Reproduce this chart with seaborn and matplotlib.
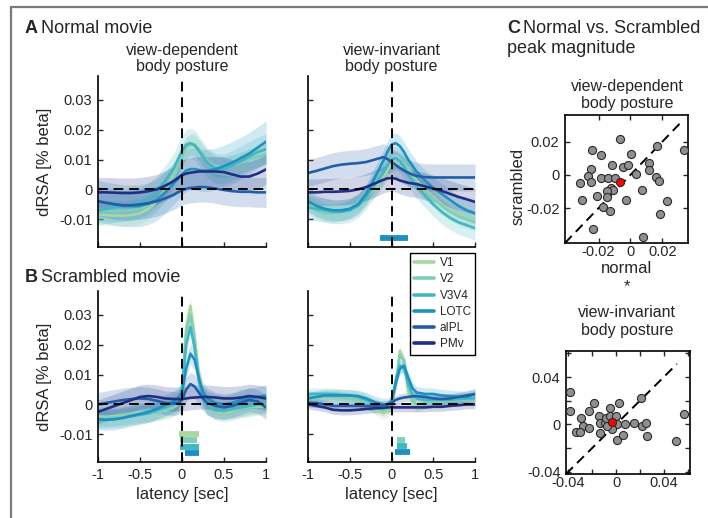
import numpy as np
import pandas as pd
import matplotlib
matplotlib.use("Agg")
import matplotlib.pyplot as plt
from matplotlib.lines import Line2D
from matplotlib.ticker import FuncFormatter
import seaborn as sns

sns.set_style("ticks")
plt.rcParams['font.family'] = ['Liberation Sans', 'DejaVu Sans']

W, H = 708, 518

regions = ['V1', 'V2', 'V3V4', 'LOTC', 'aIPL', 'PMv']
colors = ['#a9d79f', '#7fcdbb', '#41b6c4', '#1d91c0', '#225ea8', '#1f2f86']

latency = [-1, -0.9, -0.8, -0.7, -0.6, -0.5, -0.4, -0.3, -0.2, -0.1, -0.05, 0,
           0.05, 0.1, 0.15, 0.2, 0.25, 0.3, 0.4, 0.5, 0.6, 0.7, 0.8, 0.9, 1.0]

# dRSA time courses, in units of 0.001 % beta
normal_dep = {
    'V1':   [-8.5, -8.6, -8.8, -8.8, -8.6, -8.0, -6.5, -4.0, 0.0, 5.0, 8.0, 11.5, 14.0, 14.8, 14.5, 13.0, 11.0, 9.5, 7.5, 7.3, 8.0, 9.0, 10.0, 11.0, 12.0],
    'V2':   [-7.0, -7.2, -7.3, -7.2, -7.0, -6.5, -5.5, -3.5, -0.5, 4.0, 7.5, 11.0, 14.0, 15.2, 15.0, 13.5, 11.5, 9.8, 7.8, 7.5, 8.0, 9.0, 10.0, 11.0, 11.8],
    'V3V4': [-7.0, -6.5, -6.0, -5.5, -5.0, -4.5, -3.0, -0.5, 3.0, 7.0, 10.0, 13.0, 15.0, 15.5, 14.8, 13.0, 11.0, 9.0, 7.0, 6.8, 8.0, 9.5, 11.0, 12.5, 13.5],
    'LOTC': [-4.0, -4.5, -5.0, -5.5, -5.5, -5.5, -4.8, -3.5, -1.0, 2.0, 3.5, 5.0, 6.3, 6.8, 6.8, 6.5, 6.3, 6.3, 6.8, 7.8, 9.0, 10.5, 12.0, 14.0, 16.0],
    'aIPL': [-4.0, -4.5, -5.0, -5.3, -5.3, -5.0, -4.6, -4.0, -3.0, -1.8, -1.0, -0.3, 0.2, 0.5, 0.6, 0.8, 0.8, 0.7, 0.3, -0.2, -0.6, -0.8, -0.8, -1.0, -1.0],
    'PMv':  [-1.0, -1.0, -1.1, -1.2, -1.2, -1.0, -0.6, 0.0, 1.2, 2.8, 3.8, 4.8, 5.3, 5.6, 5.8, 6.0, 6.0, 6.0, 6.0, 5.8, 5.0, 4.3, 4.3, 5.3, 6.7],
}
normal_inv = {
    'V1':   [-4.0, -6.0, -7.5, -8.0, -7.5, -6.5, -5.0, -2.5, 0.5, 4.0, 6.5, 8.5, 9.8, 9.5, 8.5, 7.0, 5.0, 3.0, 0.0, -2.5, -5.0, -7.0, -8.5, -9.5, -10.5],
    'V2':   [-5.0, -7.0, -8.0, -8.0, -7.5, -6.5, -4.5, -1.5, 2.0, 5.5, 7.5, 9.5, 10.2, 9.8, 8.5, 6.5, 4.5, 2.5, -0.5, -3.0, -5.5, -7.5, -9.0, -10.0, -11.0],
    'V3V4': [-6.0, -6.5, -7.0, -7.5, -7.5, -7.0, -5.5, -2.5, 1.5, 5.5, 8.0, 10.0, 10.5, 9.5, 7.5, 5.0, 3.0, 1.0, -2.0, -5.0, -7.5, -9.5, -11.0, -12.0, -13.0],
    'LOTC': [-4.0, -5.5, -6.5, -7.0, -7.0, -6.5, -5.0, -1.5, 4.0, 9.5, 12.5, 15.0, 15.5, 14.5, 12.5, 10.0, 8.0, 6.0, 3.0, 0.5, -1.5, -3.5, -5.5, -7.0, -8.0],
    'aIPL': [5.5, 6.2, 7.0, 7.8, 8.3, 8.6, 8.8, 9.2, 10.0, 10.8, 10.2, 9.2, 8.2, 7.2, 6.3, 5.6, 5.0, 4.5, 4.1, 4.0, 4.0, 4.0, 4.0, 4.0, 4.0],
    'PMv':  [-1.0, -1.0, -0.8, -0.8, -0.7, -0.5, 0.0, 0.8, 2.0, 3.2, 3.7, 3.8, 3.6, 3.0, 2.6, 2.2, 2.0, 1.8, 1.0, 0.3, -0.5, -1.5, -2.5, -3.3, -4.2],
}
scrambled_dep = {
    'V1':   [-4.0, -4.2, -4.0, -3.7, -3.3, -3.0, -2.8, -2.5, -2.0, -1.0, 0.0, 5.0, 26.0, 33.0, 23.0, 10.0, 3.0, 0.0, -2.5, -3.0, -2.5, -1.5, -1.0, -0.8, -0.5],
    'V2':   [-4.5, -4.5, -4.3, -4.0, -3.5, -3.2, -3.0, -2.5, -1.8, -0.8, 0.2, 5.0, 24.0, 30.0, 21.0, 9.0, 2.5, -0.5, -2.0, -2.5, -2.0, -1.5, -1.0, -0.5, 0.0],
    'V3V4': [-5.0, -5.0, -4.8, -4.5, -4.0, -3.5, -3.0, -2.0, -1.0, 0.0, 1.0, 5.0, 20.0, 26.0, 19.0, 8.0, 2.0, -0.5, -2.0, -2.0, -1.5, -1.0, -0.5, 0.0, 0.5],
    'LOTC': [-5.0, -5.2, -5.0, -4.5, -3.8, -3.2, -2.5, -1.5, -0.3, 1.0, 2.0, 4.0, 12.0, 17.0, 15.0, 9.0, 4.0, 2.0, 0.5, 0.0, 0.5, 1.5, 2.0, 2.5, 3.0],
    'aIPL': [0.0, 0.5, 1.0, 1.5, 1.8, 2.0, 1.8, 1.2, 0.5, 0.3, 0.5, 1.5, 5.0, 6.8, 6.0, 4.0, 2.0, 0.5, -0.5, -1.0, -0.5, 0.5, 1.5, 1.0, -1.0],
    'PMv':  [-2.5, -1.5, -0.5, 0.5, 1.5, 2.5, 2.8, 2.5, 2.0, 1.8, 1.8, 1.8, 2.0, 2.2, 2.3, 2.4, 2.5, 2.5, 2.3, 2.0, 2.0, 2.3, 2.8, 2.5, 2.0],
}
scrambled_inv = {
    'V1':   [2.0, 2.2, 2.5, 2.5, 2.3, 2.0, 1.5, 0.5, -1.5, -3.0, -2.5, -0.5, 6.0, 18.0, 14.0, 4.0, 0.5, -0.5, 0.5, 1.0, 1.0, 1.2, 1.5, 1.5, 1.5],
    'V2':   [2.5, 2.5, 2.5, 2.5, 2.3, 2.0, 1.5, 0.5, -1.0, -2.0, -1.5, 0.0, 7.0, 16.5, 15.0, 6.0, 1.5, 0.0, 0.5, 1.0, 1.2, 1.3, 1.5, 1.5, 1.5],
    'V3V4': [3.5, 3.5, 3.5, 3.5, 3.2, 3.0, 2.5, 1.5, 0.0, -1.0, -1.0, 0.5, 8.0, 13.0, 12.0, 7.0, 3.5, 2.0, 1.5, 1.5, 1.5, 1.5, 1.8, 2.0, 2.0],
    'LOTC': [2.0, 2.5, 3.0, 3.0, 3.0, 3.0, 2.8, 2.0, 0.8, 0.0, 0.0, 1.0, 7.0, 12.0, 13.0, 9.0, 5.5, 4.0, 3.5, 3.5, 3.0, 2.8, 2.5, 2.5, 3.5],
    'aIPL': [0.5, 0.5, 0.0, -0.5, -0.5, -0.5, -0.5, -0.5, -0.5, -0.3, 0.0, 0.5, 1.5, 2.0, 2.3, 2.5, 2.7, 2.8, 2.5, 2.0, 1.8, 2.0, 2.5, 3.0, 3.5],
    'PMv':  [0.0, -0.5, -1.0, -1.8, -2.0, -2.0, -1.8, -1.5, -1.3, -1.2, -1.0, -1.0, -1.0, -1.0, -1.0, -1.0, -1.0, -1.0, -1.0, -0.8, -0.8, -0.5, -0.3, 0.0, 0.0],
}

# SEM half-widths of the shaded bands (0.001 % beta)
sem_normal_dep = {'V1': 3.5, 'V2': 3.5, 'V3V4': 5.0, 'LOTC': 7.0, 'aIPL': 5.0, 'PMv': 5.0}
sem_normal_inv = {'V1': 3.0, 'V2': 3.0, 'V3V4': 4.0, 'LOTC': 3.5, 'aIPL': 4.5, 'PMv': 4.5}
sem_scrambled_dep = {'V1': 3.0, 'V2': 3.0, 'V3V4': 3.0, 'LOTC': 3.5, 'aIPL': 4.0, 'PMv': 4.0}
sem_scrambled_inv = {'V1': 2.0, 'V2': 2.0, 'V3V4': 2.0, 'LOTC': 2.0, 'aIPL': 1.5, 'PMv': 1.5}

# significant clusters: region, start, end, bar level (0.001)
sig_normal_inv = [('LOTC', -0.14, 0.20, -16.2)]
sig_scrambled_dep = [('V1', -0.04, 0.20, -9.8), ('V2', -0.02, 0.18, -12.0),
                     ('V3V4', -0.02, 0.20, -14.2), ('LOTC', 0.04, 0.20, -16.3)]
sig_scrambled_inv = [('V2', 0.06, 0.16, -11.8), ('V3V4', 0.06, 0.19, -13.8),
                     ('LOTC', 0.04, 0.22, -15.8)]

# peak magnitudes per subject (panel C)
dep_normal = [-0.0063, -0.0238, -0.0187, 0.0004, 0.0164, 0.0332, -0.0113, -0.0047, -0.0017, 0.0113,
              0.0113, 0.0035, -0.0248, -0.0263, -0.0248, -0.0318, -0.0187, -0.014, -0.0098, 0.0162,
              0.0178, -0.0119, -0.0109, -0.015, -0.0211, -0.015, 0.0072, -0.0303, -0.0026, -0.017,
              -0.0129, 0.023, 0.0183, -0.0236, 0.0076]
dep_scrambled = [0.0214, 0.0152, 0.0121, 0.0125, 0.0173, 0.0152, 0.0058, 0.0048, 0.0058, 0.0069,
                 0.0031, 0.0006, 0.0033, -0.0004, -0.0042, -0.005, -0.0019, -0.0019, -0.0019, -0.0015,
                 -0.0035, -0.0077, -0.0094, -0.0098, -0.0125, -0.0133, -0.0092, -0.015, -0.0154, -0.0192,
                 -0.0217, -0.016, -0.0233, -0.0327, -0.0375]
inv_normal = [-0.0383, -0.0383, -0.0298, -0.0278, -0.0335, -0.0306, -0.023, -0.0187, -0.023, -0.0142,
              -0.0051, 0.0026, -0.0136, -0.0094, -0.0085, -0.0051, -0.0003, 0.0006, 0.0077, 0.0153,
              0.021, 0.0219, 0.0247, 0.0261, -0.0136, 0.0006, 0.0057, 0.0502, 0.0567, -0.0037, -0.0079]
inv_scrambled = [0.0272, 0.0112, 0.0056, -0.0014, -0.0065, -0.0062, -0.0028, 0.0177, 0.0112, 0.007,
                 0.014, 0.0183, 0.0008, 0.0008, 0.0056, 0.007, 0.007, 0.0, 0.0, 0.0014,
                 0.0219, -0.0014, 0.0014, -0.0098, -0.007, -0.0132, -0.0093, -0.014, 0.0084, -0.0036,
                 -0.0014]
dep_mean = (-0.0063, -0.0042)
inv_mean = (-0.0037, 0.0023)

TICK = 10.5
fmt = FuncFormatter(lambda v, p: '%g' % round(v, 4))


def fbox(x0, y0, x1, y1):
    return [x0 / W, 1 - y1 / H, (x1 - x0) / W, (y1 - y0) / H]


def ftext(x, y, s, **kw):
    fig.text(x / W, 1 - y / H, s, **kw)


def style_axes(ax, box=False):
    ax.tick_params(direction='in', length=3.5, width=1, labelsize=TICK, pad=4,
                   top=box, right=box)
    for sp in ax.spines.values():
        sp.set_linewidth(1.2)
        sp.set_color('black')
    if not box:
        sns.despine(ax=ax)


def timecourse(ax, means, sems, bars, xlabels, ylabels):
    rows = []
    for r in regions:
        for t, v in zip(latency, means[r]):
            rows.append((r, t, v / 1000))
    df = pd.DataFrame(rows, columns=['region', 'latency', 'drsa'])
    for r, c in zip(regions, colors):
        m = np.array(means[r]) / 1000
        s = sems[r] / 1000
        ax.fill_between(latency, m - s, m + s, color=c, alpha=0.2, lw=0)
    sns.lineplot(data=df, x='latency', y='drsa', hue='region', hue_order=regions,
                 palette=colors, lw=1.9, legend=False, ax=ax)
    ax.axhline(0, color='black', lw=1.4, ls=(0, (5, 3)), zorder=5)
    ax.axvline(0, color='black', lw=1.4, ls=(0, (5, 3)), zorder=5)
    for r, t0, t1, yb in bars:
        ax.plot([t0, t1], [yb / 1000, yb / 1000], color=colors[regions.index(r)],
                lw=4.2, solid_capstyle='butt')
    ax.set_xlim(-1, 1)
    ax.set_ylim(-0.0193, 0.038)
    ax.set_xticks([-1, -0.5, 0, 0.5, 1])
    ax.set_yticks([-0.01, 0, 0.01, 0.02, 0.03])
    ax.xaxis.set_major_formatter(fmt)
    ax.yaxis.set_major_formatter(fmt)
    if not xlabels:
        ax.set_xticklabels([])
    if not ylabels:
        ax.set_yticklabels([])
    ax.set_xlabel('')
    ax.set_ylabel('')
    style_axes(ax)


def peak_scatter(ax, xs, ys, mean, lim, diag_end, ticks, labels):
    df = pd.DataFrame({'normal': xs, 'scrambled': ys})
    ax.plot([lim[0], diag_end], [lim[0], diag_end], color='black', lw=1.4,
            ls=(0, (5, 3)), zorder=1)
    sns.scatterplot(data=df, x='normal', y='scrambled', color='#8f8f8f', s=34,
                    edgecolor='#2b2b2b', linewidth=0.8, ax=ax, zorder=3)
    ax.scatter([mean[0]], [mean[1]], color='#ff0000', s=34, edgecolor='#2b2b2b',
               linewidth=0.8, zorder=4)
    ax.set_xlim(lim)
    ax.set_ylim(lim)
    ax.set_xticks(ticks)
    ax.set_yticks(ticks)
    ax.set_xticklabels(labels)
    ax.set_yticklabels(labels)
    ax.set_xlabel('')
    ax.set_ylabel('')
    style_axes(ax, box=True)
    ax.tick_params(axis='x', pad=1.5)


fig = plt.figure(figsize=(W / 100, H / 100), dpi=100)

ax_a1 = fig.add_axes(fbox(98, 76, 266, 247))
ax_a2 = fig.add_axes(fbox(308, 76, 475, 247))
ax_b1 = fig.add_axes(fbox(98, 291, 266, 462))
ax_b2 = fig.add_axes(fbox(308, 291, 475, 462))
ax_c1 = fig.add_axes(fbox(565, 115, 688, 243))
ax_c2 = fig.add_axes(fbox(566, 351, 690, 474))

timecourse(ax_a1, normal_dep, sem_normal_dep, [], False, True)
timecourse(ax_a2, normal_inv, sem_normal_inv, sig_normal_inv, False, False)
timecourse(ax_b1, scrambled_dep, sem_scrambled_dep, sig_scrambled_dep, True, True)
timecourse(ax_b2, scrambled_inv, sem_scrambled_inv, sig_scrambled_inv, True, False)

peak_scatter(ax_c1, dep_normal, dep_scrambled, dep_mean, (-0.041, 0.036), 0.032,
             [-0.02, 0, 0.02], ['-0.02', '0', '0.02'])
peak_scatter(ax_c2, inv_normal, inv_scrambled, inv_mean, (-0.042, 0.062), 0.051,
             [-0.04, -0.02, 0, 0.02, 0.04, 0.06], ['-0.04', '', '0', '', '0.04', ''])

handles = [Line2D([], [], color=c, lw=2.6) for c in colors]
fig.legend(handles, regions, loc='upper right', bbox_to_anchor=(475 / W, 1 - 253 / H),
           fontsize=8.5, frameon=True, fancybox=False, edgecolor='black',
           handlelength=1.7, handletextpad=0.5, labelspacing=0.36, borderpad=0.35,
           borderaxespad=0, framealpha=1)
fig.legends[0].get_frame().set_linewidth(1.0)

# panel headings
ftext(25, 33, 'A', fontsize=13, fontweight='bold', va='baseline')
ftext(41, 33, 'Normal movie', fontsize=13, va='baseline')
ftext(25, 282, 'B', fontsize=13, fontweight='bold', va='baseline')
ftext(41, 282, 'Scrambled movie', fontsize=13, va='baseline')
ftext(507, 33, 'C', fontsize=13, fontweight='bold', va='baseline')
ftext(523, 33, 'Normal vs. Scrambled', fontsize=13, va='baseline')
ftext(507, 53, 'peak magnitude', fontsize=13, va='baseline')

for x, name in [(182, 'view-dependent'), (391.5, 'view-invariant')]:
    ftext(x, 55, name, fontsize=11.5, ha='center', va='baseline')
    ftext(x, 71, 'body posture', fontsize=11.5, ha='center', va='baseline')
ftext(627, 91, 'view-dependent', fontsize=11.5, ha='center', va='baseline')
ftext(627, 108, 'body posture', fontsize=11.5, ha='center', va='baseline')
ftext(627, 317, 'view-invariant', fontsize=11.5, ha='center', va='baseline')
ftext(627, 335, 'body posture', fontsize=11.5, ha='center', va='baseline')

for yc in [161.5, 376.5]:
    ftext(44.5, yc, 'dRSA [% beta]', fontsize=12, rotation=90, ha='center', va='center')
for xc in [182, 391.5]:
    ftext(xc, 495, 'latency [sec]', fontsize=12, ha='center', va='center')
ftext(518, 186, 'scrambled', fontsize=12, rotation=90, ha='center', va='center')
ftext(627, 273, 'normal', fontsize=12, ha='center', va='baseline')
ftext(627, 287, '*', fontsize=12, ha='center', va='center')

# grey outer frame
fig.add_artist(Line2D([11 / W, 11 / W], [0, 1 - 7 / H], color='#7a7a7a', lw=1.6))
fig.add_artist(Line2D([11 / W, 1], [1 - 7 / H, 1 - 7 / H], color='#7a7a7a', lw=1.6))

fig.savefig('out.png', dpi=100, facecolor='white')
